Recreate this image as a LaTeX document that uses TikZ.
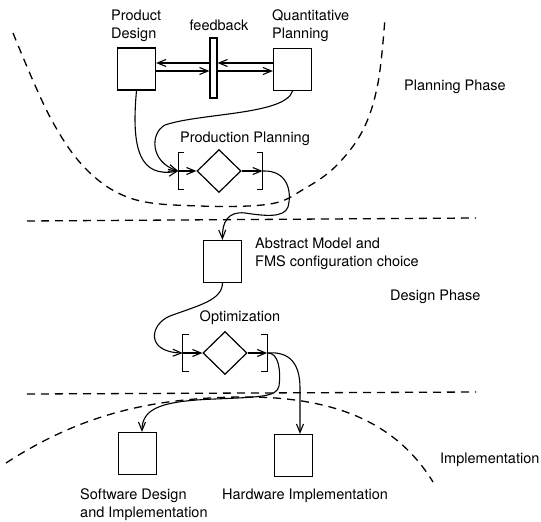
\documentclass[tikz,border=0pt]{standalone}
\usepackage{fontspec}
\setmainfont{TeX Gyre Heros}
\usetikzlibrary{arrows.meta,shapes.geometric,calc}

\begin{document}
\begin{tikzpicture}[x=1pt,y=-1pt,
  every node/.style={inner sep=0pt, font=\fontsize{14.5}{18}\selectfont},
  box/.style={draw, line width=1.2pt, minimum width=38pt, minimum height=42pt},
  dec/.style={draw, diamond, line width=1.2pt, minimum width=44pt, minimum height=43pt},
  bracketarea/.style={minimum width=84pt, minimum height=36pt},
  arr/.style={line width=1.1pt, -{Straight Barb[length=8.5pt,width=7pt,line width=1.1pt]}},
  plain/.style={line width=1.1pt},
  bound/.style={line width=1.3pt, dash pattern=on 8pt off 6pt},
  lbl/.style={align=left, anchor=west}]

\useasboundingbox (0,0) rectangle (541,522);

% phase boundaries
\draw[bound] plot[smooth, tension=0.6] coordinates {(13,33) (50,117) (87,170) (133,199) (200,206) (270,204) (304,189) (336,166) (363,130) (378,83) (385,18)};
\draw[bound] (27,221) -- (476,218);
\draw[bound] (27,394) -- (476,392);
\draw[bound] (6,463) .. controls (80,415) and (150,398) .. (240,397)
  .. controls (330,396) and (395,420) .. (433,482);

% planning phase
\node[box] (product) at (136.5,69) {};
\node[box] (quant) at (292.5,69.5) {};
\node[draw, line width=1.1pt, minimum width=7pt, minimum height=60pt] (bar) at (213.5,68) {};
\node[lbl] (productlbl) at (111,26) {Product\\Design};
\node (feedbacklbl) at (219,25) {feedback};
\node[lbl] (quantlbl) at (272,26) {Quantitative\\Planning};
\node (planphase) at (455,87) {Planning Phase};

\draw[arr] (quant.west |- 0,63) -- (bar.east |- 0,63);
\draw[arr] (bar.west |- 0,63) -- (product.east |- 0,63);
\draw[arr] (product.east |- 0,71) -- (bar.west |- 0,71);
\draw[arr] (bar.east |- 0,71) -- (quant.west |- 0,71);

\node[bracketarea] (ppb) at (220.5,171) {};
\node[dec] (pp) at (219,171) {};
\node (pplbl) at (245,139) {Production Planning};
\draw[plain] ([xshift=6pt]ppb.north west) -- (ppb.north west) -- (ppb.south west) -- ++(6pt,0);
\draw[plain] ([xshift=-6pt]ppb.north east) -- (ppb.north east) -- (ppb.south east) -- ++(-6pt,0);
\draw[arr] (ppb.west) -- (pp.west);
\draw[arr] (pp.east) -- (ppb.east);

\draw[arr] (product.south) .. controls (131,150) and (140,178) .. (ppb.west);
\draw[arr] (quant.south) .. controls (285,115) and (200,113) .. (165,125)
  .. controls (150,133) and (150,162) .. (ppb.west);

% design phase
\node[box] (abstract) at (222.5,261.5) {};
\node[lbl] (abstractlbl) at (255,254) {Abstract Model and\\FMS configuration choice};
\node[lbl] (designphase) at (390,297) {Design Phase};

\draw[arr] (ppb.east) .. controls (288,170) and (292,192) .. (288,207)
  .. controls (284,218) and (265,216) .. (245,213)
  .. controls (228,211) and (222,222) .. (abstract.north);

\node[bracketarea] (opb) at (225,353) {};
\node[dec] (opt) at (225,353) {};
\node (optlbl) at (240,318) {Optimization};
\draw[plain] ([xshift=6pt]opb.north west) -- (opb.north west) -- (opb.south west) -- ++(6pt,0);
\draw[plain] ([xshift=-6pt]opb.north east) -- (opb.north east) -- (opb.south east) -- ++(-6pt,0);
\draw[arr] (opb.west) -- (opt.west);
\draw[arr] (opt.east) -- (opb.east);

\draw[arr] (abstract.south) .. controls (222,300) and (200,305) .. (170,316)
  .. controls (150,324) and (145,352) .. (opb.west);

% implementation
\node[box] (software) at (137.5,453.5) {};
\node[box] (hardware) at (293.5,455.5) {};
\node[lbl] (softwarelbl) at (80,505) {Software Design\\and Implementation};
\node[lbl] (hardwarelbl) at (222,496) {Hardware Implementation};
\node[lbl] (implphase) at (440,460) {Implementation};

\draw[arr] (opb.east) .. controls (279,352) and (281,372) .. (279,386)
  .. controls (277,397) and (260,397) .. (215,399)
  .. controls (162,401) and (142,408) .. ([xshift=4.5pt]software.north);
\draw[arr] (opb.east) .. controls (290,351) and (300,364) .. (300,388)
  -- ([xshift=6.5pt]hardware.north);

\end{tikzpicture}
\end{document}
